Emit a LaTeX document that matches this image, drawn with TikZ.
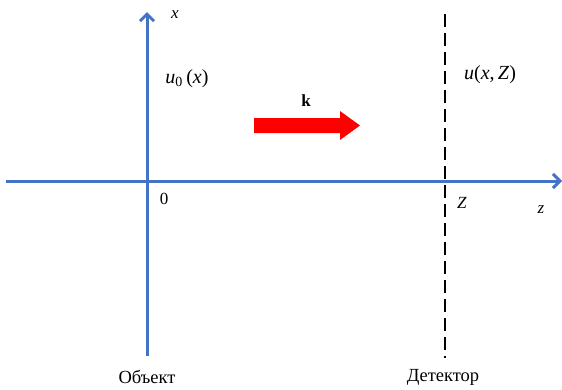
\documentclass[tikz,border=0pt]{standalone}
\usepackage{fontspec}
\setmainfont{Liberation Serif}
\usetikzlibrary{arrows.meta}
\definecolor{axisblue}{HTML}{4472C4}
\begin{document}
\begin{tikzpicture}[x=1pt,y=-1pt,
  axis/.style={draw=axisblue,line width=3pt,-{Straight Barb[length=7pt,width=14pt,line width=3pt]}},
  lbl/.style={font=\fontsize{17}{19}\selectfont,inner sep=0pt},
  mlbl/.style={font=\fontsize{18.5}{21}\selectfont,inner sep=0pt},
  flbl/.style={font=\fontsize{20}{22}\selectfont,inner sep=0pt}]
\useasboundingbox (0,0) rectangle (562,389);
\coordinate (xs) at (147,356);
\coordinate (xe) at (147,12);
\coordinate (zs) at (6,181);
\coordinate (ze) at (562,181);
\coordinate (ds) at (445,14);
\coordinate (de) at (445,358);
\draw[axis] (xs) -- (xe);
\draw[axis] (zs) -- (ze);
\draw[black,line width=2.6pt,dash pattern=on 13pt off 6pt] (ds) -- (de);
\fill[red] (254,118) -- (340,118) -- (340,111) -- (360,125.5) -- (340,140) -- (340,133) -- (254,133) -- cycle;
\node[lbl] (k) at (306,101) {\textbf{k}};
\node[lbl] (xl) at (175,15) {\textit{x}};
\node[flbl] (u0) at (187,79) {\textit{u}\textsubscript{0}\,(\textit{x})};
\node[flbl] (uz) at (490,75) {\textit{u}(\textit{x},\,\textit{Z})};
\node[lbl] (zero) at (164,199) {0};
\node[lbl] (Z) at (462,203) {\textit{Z}};
\node[lbl] (zl) at (541,210) {\textit{z}};
\node[mlbl] (obj) at (147,377) {Объект};
\node[mlbl] (det) at (443,377) {Детектор};
\end{tikzpicture}
\end{document}
